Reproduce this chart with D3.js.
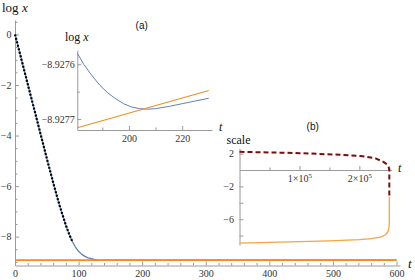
<!DOCTYPE html>
<html>
<head>
<meta charset="utf-8">
<script src="https://cdn.jsdelivr.net/npm/d3@7"></script>
<style>
body{margin:0;background:#fff}
svg{display:block;font-family:"Liberation Serif","Times New Roman",serif}
</style>
</head>
<body>
<svg id="drawing_region"></svg>
<script>
// main panel: log x against t
const mainT    = [0,10,20,30,40,50,60,70,80,85,90,95,100,105,110,115,120,125,130,140,150,600]
const mainLogX = [0,-0.98,-1.96,-2.94,-3.92,-4.9,-5.86,-6.76,-7.55,-7.89,-8.18,-8.41,-8.58,-8.7,-8.78,-8.84,-8.87,-8.9,-8.915,-8.925,-8.928,-8.928]
const dottedEnd = 90
const flatT    = [0,600]
const flatLogX = [-8.9277,-8.9277]
const mainXTicks = [0,100,200,300,400,500,600]
const mainYTicks = [0,-2,-4,-6,-8]

// inset (a)
const insetAT    = [180.6,183,186,189,192,195,198,201,204,207,210,215,220,225,230]
const insetABlue = [-8.92758,-8.9276,-8.92762,-8.927638,-8.927652,-8.927663,-8.927672,-8.927678,-8.927681,-8.927682,-8.927681,-8.927677,-8.927672,-8.927667,-8.927662]
const insetAOrangeT = [180.6,230]
const insetAOrange  = [-8.927716,-8.927648]
const insetAXTicks = [200,220]
const insetAYTicks = [-8.9276,-8.9277]

// inset (b)
const insetBRedT = [0,50000,100000,135000,170000,202000,227000,240000,246000,249000,250000,250000]
const insetBRed  = [2.22,2.15,2.06,1.96,1.85,1.71,1.43,1.0,0.7,0.35,0.0,-3.26]
const insetBOrangeT = [0,50000,100000,150000,200000,220000,235000,244000,248000,249500,250000,250000]
const insetBOrange  = [-8.93,-8.84,-8.75,-8.64,-8.5,-8.38,-8.2,-7.9,-7.5,-7.0,-6.5,-3.26]
const insetBXTicks = [100000,200000]
const insetBYTicks = [2,-2,-6]
const insetBYMinor = [-4,-8]

const axisColor = '#9a9a9a'
const labelColor = '#333'
const serif = '"Liberation Serif","Times New Roman",serif'

const svg = d3.select('#drawing_region')
    .attr('width',415)
    .attr('height',280)

function styleAxis(g){
    g.attr('font-family',serif).attr('font-size',10)
    g.select('.domain').attr('stroke',axisColor).attr('stroke-width',1)
    g.selectAll('.tick line').attr('stroke',axisColor)
    g.selectAll('.tick text')
        .attr('fill',labelColor)
        .style('font-family',serif)
        .attr('font-size',10)
}

function drawAxes(p){
    // x axis
    const xg = svg.append('g').attr('transform',`translate(0,${p.y(p.xAt)})`)
    xg.call(d3.axisBottom(p.x).tickValues(p.xTicks).tickSizeInner(-4).tickSizeOuter(0)
        .tickPadding(p.xPad).tickFormat(p.xFormat || d3.format('d')))
    styleAxis(xg)
    if(p.xMinor){
        const xm = svg.append('g').attr('transform',`translate(0,${p.y(p.xAt)})`)
        xm.call(d3.axisBottom(p.x).tickValues(p.xMinor).tickSizeInner(-2.5).tickSizeOuter(0).tickFormat(''))
        xm.select('.domain').remove()
        styleAxis(xm)
    }
    // y axis
    const yg = svg.append('g').attr('transform',`translate(${p.x(p.yAt)},0)`)
    yg.call(d3.axisLeft(p.y).tickValues(p.yTicks).tickSizeInner(-4).tickSizeOuter(0)
        .tickPadding(p.yPad).tickFormat(p.yFormat || d3.format('d')))
    styleAxis(yg)
    if(p.yMinor){
        const ym = svg.append('g').attr('transform',`translate(${p.x(p.yAt)},0)`)
        ym.call(d3.axisLeft(p.y).tickValues(p.yMinor).tickSizeInner(-(p.yMinorSize || 2.5)).tickSizeOuter(0).tickFormat(''))
        ym.select('.domain').remove()
        styleAxis(ym)
    }
    return xg
}

function drawLine(xs,ys,x,y,stroke,width,dash){
    const pts = xs.map((t,i) => [t,ys[i]])
    svg.append('path')
        .datum(pts)
        .attr('fill','none')
        .attr('stroke',stroke)
        .attr('stroke-width',width)
        .attr('stroke-dasharray',dash || null)
        .attr('stroke-linejoin','round')
        .attr('d',d3.line().x(d => x(d[0])).y(d => y(d[1])).curve(d3.curveLinear))
}

function label(x,y,txt,opt){
    opt = opt || {}
    const t = svg.append('text')
        .attr('x',x).attr('y',y)
        .attr('font-size',opt.size || 12)
        .attr('fill','#111')
        .attr('text-anchor',opt.anchor || 'start')
        .attr('font-family',opt.sans ? '"Liberation Sans",Arial,sans-serif' : serif)
    if(opt.italic) t.attr('font-style','italic')
    if(opt.parts){
        opt.parts.forEach(pp => t.append('tspan').attr('font-style',pp[1] ? 'italic' : 'normal').text(pp[0]))
    }else{
        t.text(txt)
    }
    return t
}

// ---- main panel
const mx = d3.scaleLinear().domain([0,605.5]).range([15,400])
const my = d3.scaleLinear().domain([-9.14,0.57]).range([265.5,20])
drawAxes({
    x:mx, y:my, xAt:-9.14, yAt:0,
    xTicks:mainXTicks, xMinor:d3.range(20,601,20).filter(v => v % 100 !== 0), xPad:4.5,
    yTicks:mainYTicks, yMinor:d3.range(-9,0.6,0.5).filter(v => v % 2 !== 0), yPad:3.5
})
drawLine(mainT,mainLogX,mx,my,'#5e81b5',1.3)
drawLine(flatT,flatLogX,mx,my,'#ee8f1c',1.8)
const dotIdx = mainT.map((t,i) => i).filter(i => mainT[i] <= dottedEnd)
drawLine(dotIdx.map(i => mainT[i]),dotIdx.map(i => mainLogX[i]),mx,my,'#000',2.2,'2,1.6')

label(2,11.5,null,{size:13,parts:[['log ',false],['x',true]]})
label(408,268,'t',{size:13,italic:true})

// ---- inset (a)
const ax = d3.scaleLinear().domain([180.6,231.2]).range([77.3,212])
const ay = d3.scaleLinear().domain([-8.92772,-8.927574]).range([130,50])
drawAxes({
    x:ax, y:ay, xAt:-8.92772, yAt:180.6,
    xTicks:insetAXTicks, xMinor:[190,210], xPad:4.4,
    yTicks:insetAYTicks, yMinor:[-8.92765], yPad:2.5, yFormat:d3.format('.4f')
})
drawLine(insetAT,insetABlue,ax,ay,'#5e81b5',1)
drawLine(insetAOrangeT,insetAOrange,ax,ay,'#ee8f1c',1.1)
label(65,40.5,null,{size:12,parts:[['log ',false],['x',true]]})
label(219,131,'t',{size:12,italic:true})
label(141.7,29,'(a)',{size:10,sans:true,anchor:'middle'})

// ---- inset (b)
const bx = d3.scaleLinear().domain([0,254000]).range([239.5,391.7])
const by = d3.scaleLinear().domain([-9.15,2.65]).range([245,148.3])
const bxg = drawAxes({
    x:bx, y:by, xAt:0, yAt:0,
    xTicks:insetBXTicks, xMinor:[50000,150000,250000], xPad:4.4,
    yTicks:insetBYTicks, yMinor:insetBYMinor, yMinorSize:4, yPad:5.5
})
// scientific labels with superscript
bxg.selectAll('.tick text').each(function(d){
    const t = d3.select(this)
    t.text(null)
    t.append('tspan').text(`${d/1e5}×10`)
    t.append('tspan').attr('dy','-0.45em').attr('font-size',7).text('5')
})
drawLine(insetBOrangeT,insetBOrange,bx,by,'#f5a443',1.3)
drawLine(insetBRedT,insetBRed,bx,by,'#7b0d0d',2,'5,3')
label(226.5,144,'scale',{size:12})
label(398,171.5,'t',{size:12,italic:true})
label(312.7,130,'(b)',{size:10,sans:true,anchor:'middle'})
</script>
</body>
</html>
